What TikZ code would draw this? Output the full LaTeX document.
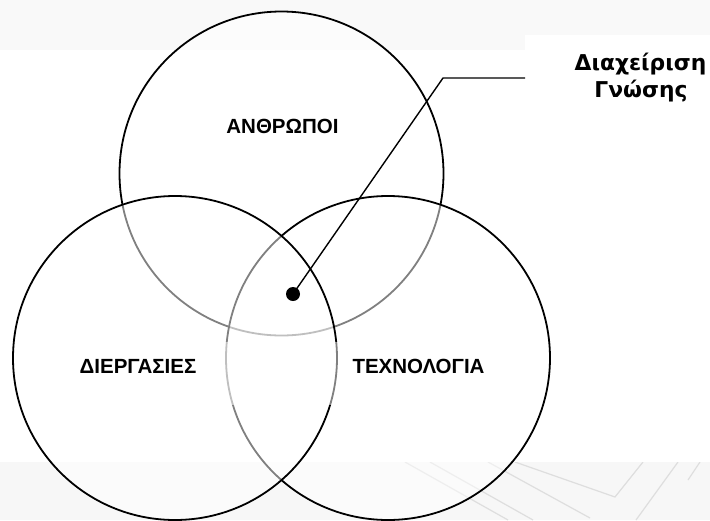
\documentclass[tikz,border=0pt]{standalone}
\usepackage{fontspec}
\setmainfont{Liberation Sans}[BoldFont={Liberation Sans Bold}]
\newfontfamily\labelfont{DejaVu Sans Bold}
\definecolor{topband}{RGB}{249,249,249}
\definecolor{bandgray}{RGB}{247,247,247}
\definecolor{markgray}{RGB}{222,222,222}
\tikzset{
  setcircle/.style={draw=black, line width=1.8pt, fill=white, fill opacity=0.5},
  setlabel/.style={font=\bfseries\fontsize{20.5}{24}\selectfont, anchor=base, inner sep=0pt},
  kmlabel/.style={font=\labelfont\fontsize{21.8}{26}\selectfont, anchor=base, inner sep=0pt},
  pointer/.style={draw=black, line width=1.4pt},
  markline/.style={draw=markgray, line width=1.2pt}
}
\begin{document}
\begin{tikzpicture}[x=1pt, y=-1pt]
\useasboundingbox (0,0) rectangle (710,520);
% light bands at the top and bottom of the sheet
\fill[topband] (0,0) rectangle (710,50);
\fill[bandgray] (0,462) rectangle (710,520);
% faint hatched mark in the lower band
\begin{scope}
  \clip (0,462) rectangle (710,520);
  \draw[markline] (405,462) -- (508,520);
  \draw[markline] (430,462) -- (533,520);
  \draw[markline] (488,462) -- (590,518);
  \draw[markline] (515,462) -- (615,497) -- (643,462);
  \draw[markline] (678,462) -- (636,520);
  \draw[markline] (700,462) -- (688,480);
\end{scope}
% white panel behind the callout text
\fill[white] (525,35) rectangle (710,110);
% the three sets, drawn top, right, left
\path[setcircle] (281.5,173.5) circle[radius=162];
\path[setcircle] (388,358) circle[radius=162];
\path[setcircle] (175,358) circle[radius=162];
% pale panel over the lower middle of the overlap
\fill[white, fill opacity=0.5] (215,342) rectangle (345,405);
% set labels
\node[setlabel] (people) at (282.5,133) {ΑΝΘΡΩΠΟΙ};
\node[setlabel] (process) at (138,373) {ΔΙΕΡΓΑΣΙΕΣ};
\node[setlabel] (tech) at (418.5,373) {ΤΕΧΝΟΛΟΓΙΑ};
% callout to the common core
\node[circle, fill=black, minimum size=14pt, inner sep=0pt] (core) at (293,294) {};
\coordinate (bend) at (443,78);
\coordinate (tail) at (525,78);
\draw[pointer] (core.center) -- (bend) -- (tail);
\node[kmlabel] (km1) at (640.5,70) {Διαχείριση};
\node[kmlabel] (km2) at (641,97) {Γνώσης};
\end{tikzpicture}
\end{document}
